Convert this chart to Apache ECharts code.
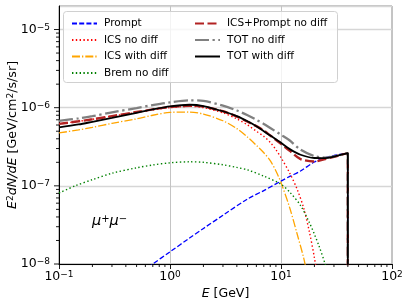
<!DOCTYPE html>
<html><head><meta charset="utf-8">
<script src="https://cdn.jsdelivr.net/npm/echarts@6/dist/echarts.min.js"></script>
<style>html,body{margin:0;padding:0;background:#fff}#c{width:407px;height:305px}</style>
</head><body><div id="c"></div>
<script>
// Energy [GeV], E^2 dN/dE [GeV/cm^2/s/sr]
const prompt = [[0.5,7.0e-9],[0.7,1.0e-8],[1,1.43e-8],[1.5,2.15e-8],[2,2.85e-8],[3,4.2e-8],[5,6.8e-8],[7,8.7e-8],[10,1.15e-7],[12,1.32e-7],[15,1.55e-7],[20,2.02e-7],[25,2.3e-7],[30,2.45e-7],[35,2.55e-7],[40,2.62e-7],[40,1e-10]];
const icsNoDiff = [[0.1,6.2e-7],[0.15,6.7e-7],[0.2,7.1e-7],[0.3,7.8e-7],[0.5,8.7e-7],[0.7,9.4e-7],[1,1.0e-6],[1.5,1.04e-6],[2,1.0e-6],[3,8.6e-7],[4,7.2e-7],[5,6.0e-7],[6,5.0e-7],[7,4.3e-7],[8,3.6e-7],[9,2.9e-7],[10,2.3e-7],[12,1.45e-7],[14,9.0e-8],[16,5.2e-8],[18,2.6e-8],[20,1.2e-8],[22,5e-9]];
const icsWithDiff = [[0.1,4.75e-7],[0.15,5.2e-7],[0.2,5.6e-7],[0.3,6.3e-7],[0.5,7.2e-7],[0.7,8.0e-7],[1,8.7e-7],[1.5,8.8e-7],[2,8.3e-7],[3,6.8e-7],[4,5.4e-7],[5,4.2e-7],[6,3.3e-7],[7,2.65e-7],[8,2.1e-7],[9,1.55e-7],[10,1.1e-7],[12,5.2e-8],[14,2.4e-8],[16,1.2e-8],[17,8e-9]];
const bremNoDiff = [[0.1,8.1e-8],[0.14,1.0e-7],[0.2,1.2e-7],[0.3,1.45e-7],[0.5,1.7e-7],[0.7,1.85e-7],[1,1.97e-7],[1.5,2.03e-7],[2,2.0e-7],[3,1.86e-7],[4,1.72e-7],[5,1.6e-7],[7,1.33e-7],[10,1.05e-7],[12,8.3e-8],[15,5.6e-8],[18,3.4e-8],[20,2.4e-8],[22,1.7e-8],[25,1.0e-8],[27,7e-9]];
const icsPromptNoDiff = [[0.1,6.2e-7],[0.15,6.7e-7],[0.2,7.1e-7],[0.3,7.8e-7],[0.5,8.8e-7],[0.7,9.5e-7],[1,1.02e-6],[1.5,1.06e-6],[2,1.03e-6],[3,9.0e-7],[4,7.7e-7],[5,6.6e-7],[6,5.8e-7],[7,5.1e-7],[8,4.4e-7],[10,3.45e-7],[12,2.8e-7],[15,2.2e-7],[20,2.05e-7],[25,2.2e-7],[30,2.35e-7],[35,2.5e-7],[40,2.62e-7],[40,1e-10]];
const totNoDiff = [[0.1,6.8e-7],[0.15,7.3e-7],[0.2,7.8e-7],[0.3,8.7e-7],[0.5,9.9e-7],[0.7,1.08e-6],[1,1.17e-6],[1.5,1.24e-6],[2,1.22e-6],[3,1.06e-6],[4,9.2e-7],[5,8.0e-7],[6,7.0e-7],[7,6.2e-7],[8,5.5e-7],[10,4.5e-7],[12,3.8e-7],[15,2.9e-7],[20,2.4e-7],[25,2.3e-7],[30,2.38e-7],[35,2.5e-7],[40,2.63e-7],[40,1e-10]];
const totWithDiff = [[0.1,5.6e-7],[0.15,6.1e-7],[0.2,6.6e-7],[0.3,7.4e-7],[0.5,8.6e-7],[0.7,9.5e-7],[1,1.04e-6],[1.5,1.09e-6],[2,1.05e-6],[3,9.0e-7],[4,7.8e-7],[5,6.7e-7],[6,5.8e-7],[7,5.0e-7],[8,4.4e-7],[10,3.55e-7],[12,2.95e-7],[15,2.5e-7],[20,2.27e-7],[25,2.26e-7],[30,2.37e-7],[35,2.5e-7],[40,2.63e-7],[40,1e-10]];
const xMinorTicks = [0.2,0.3,0.4,0.5,0.6,0.7,0.8,0.9,2,3,4,5,6,7,8,9,20,30,40,50,60,70,80,90];
const yMajorTicks = [1e-8,1e-7,1e-6,1e-5];
const yMinorTicks = [2e-8,3e-8,4e-8,5e-8,6e-8,7e-8,8e-8,9e-8,2e-7,3e-7,4e-7,5e-7,6e-7,7e-7,8e-7,9e-7,2e-6,3e-6,4e-6,5e-6,6e-6,7e-6,8e-6,9e-6];

const F = 'DejaVu Sans';
const chart = echarts.init(document.getElementById('c'), null, {renderer:'canvas'});
function powLabel(v){
  const e = Math.log10(v); const k = Math.round(e);
  if (Math.abs(e-k) > 1e-6) return '';
  return '{b|10}{s|' + (k<0 ? '\u2212'+(-k) : k) + '}';
}
const labRich = { b:{fontSize:12.5, fontFamily:F, color:'#000'}, s:{fontSize:9, fontFamily:F, color:'#000', verticalAlign:'top'} };
function tickSeries(data, dx, dy, len){
  return { type:'custom', silent:true, z:5, clip:false, data:data,
    renderItem:(params, api)=>{ const p = api.coord([api.value(0), api.value(1)]);
      return {type:'line', shape:{x1:p[0], y1:p[1], x2:p[0]+dx*len, y2:p[1]+dy*len}, style:{stroke:'#000', lineWidth:0.9}}; } };
}
function line(name, data, color, width, type, z){
  return { name, type:'line', data, symbol:'none', showSymbol:false, smooth:0.3, z:z||2,
    lineStyle:{color, width, type}, itemStyle:{color}, emphasis:{disabled:true} };
}
const legText = {fontSize:10.5, fontFamily:F, color:'#000', padding:[0,0,0,2]};
const legCommon = {orient:'vertical', top:13, itemWidth:25, itemHeight:10, itemGap:5.5, selectedMode:false, textStyle:legText, z:6, itemStyle:{opacity:0, borderWidth:0}};
chart.setOption({
  animation:false,
  grid:{left:59, right:15, top:6, bottom:41, show:true, borderColor:'#8a8a8a', borderWidth:1, containLabel:false, outerBoundsMode:'none'},
  xAxis:{ type:'log', logBase:10, min:0.1, max:100,
    name:'{i|E} [GeV]', nameLocation:'middle', nameGap:23, nameMoveOverlap:false,
    nameTextStyle:{fontSize:12.5, fontFamily:F, color:'#000', rich:{i:{fontSize:12.5, fontFamily:F, fontStyle:'italic', color:'#000'}}},
    axisLine:{show:true, onZero:false, lineStyle:{color:'#000', width:1}},
    axisTick:{show:true, length:5, lineStyle:{color:'#000', width:0.9}},
    axisLabel:{formatter:powLabel, margin:6, rich:labRich},
    splitLine:{show:true, lineStyle:{color:'#c4c4c4', width:1}},
    minorTick:{show:false}
  },
  yAxis:{ type:'log', logBase:10, min:1e-8, max:2e-5,
    name:'{i|E}{s|2}{i|dN/dE} [GeV/cm{s|2}/s/sr]', nameLocation:'middle', nameGap:40, nameRotate:90, nameMoveOverlap:false,
    nameTextStyle:{fontSize:12.7, fontFamily:F, color:'#000', rich:{i:{fontSize:12.7, fontFamily:F, fontStyle:'italic', color:'#000'}, s:{fontSize:9, fontFamily:F, color:'#000', verticalAlign:'top'}}},
    axisLine:{show:true, onZero:false, lineStyle:{color:'#000', width:1}},
    axisTick:{show:false},
    axisLabel:{formatter:powLabel, margin:9, rich:labRich},
    splitLine:{show:true, lineStyle:{color:'#d6d6d6', width:1.3}}
  },
  legend:[
    Object.assign({data:['Prompt','ICS no diff','ICS with diff','Brem no diff'], left:66}, legCommon),
    Object.assign({data:['ICS+Prompt no diff','TOT no diff','TOT with diff'], left:189}, legCommon)
  ],
  graphic:{elements:[
    {type:'rect', left:63, top:11, z:3, shape:{width:274, height:71, r:3}, style:{fill:'rgba(255,255,255,0.8)', stroke:'#d0d0d0', lineWidth:1}},
    {type:'text', left:92, top:214, z:3, style:{text:'{m|\u03bc}{s|+}{m|\u03bc}{s|\u2212}', rich:{m:{fontSize:14.5, fontFamily:F, fontStyle:'italic', fill:'#000'}, s:{fontSize:10, fontFamily:F, fill:'#000', verticalAlign:'top'}}}}
  ]},
  series:[
    line('Prompt', prompt, '#0000ff', 1.3, [5,2.2], 2),
    line('ICS no diff', icsNoDiff, '#ff0000', 1.4, [1.4,2.4], 2),
    line('ICS with diff', icsWithDiff, '#ffa500', 1.3, [8,2,1.3,2], 2),
    line('Brem no diff', bremNoDiff, '#008000', 1.4, [1.4,2.4], 2),
    line('ICS+Prompt no diff', icsPromptNoDiff, '#b22222', 2.4, [9,3.5], 2),
    line('TOT no diff', totNoDiff, '#808080', 2.3, [14,3.5,2.3,3.5], 2),
    line('TOT with diff', totWithDiff, '#000000', 1.8, 'solid', 2),
    tickSeries(xMinorTicks.map(v=>[v,1e-8]), 0, 1, 3),
    tickSeries(yMinorTicks.map(v=>[0.1,v]), -1, 0, 3),
    tickSeries(yMajorTicks.map(v=>[0.1,v]), -1, 0, 5)
  ]
});
</script></body></html>
